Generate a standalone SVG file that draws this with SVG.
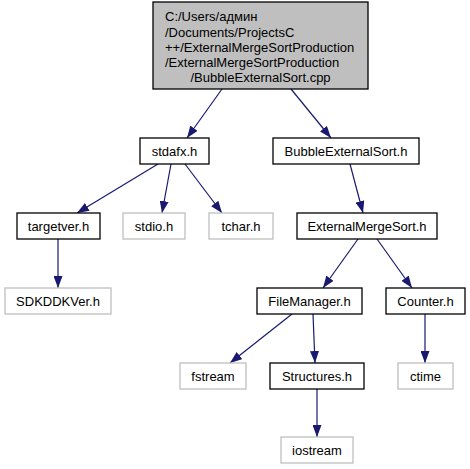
<svg xmlns="http://www.w3.org/2000/svg" width="470" height="469" viewBox="0 0 470 469">
<defs>
<marker id="ah" viewBox="0 0 12 9" refX="12" refY="4.5" markerWidth="12" markerHeight="9" markerUnits="userSpaceOnUse" orient="auto">
<path d="M0,0 L12,4.5 L0,9 Z" fill="#191970"/>
</marker>
<style>
text{font-family:"Liberation Sans",Arial,sans-serif;font-size:13px;fill:#000}
.c{text-anchor:middle}
.n rect{fill:#fff;stroke:#000;stroke-width:1.3}
.g rect{fill:#fff;stroke:#bfbfbf;stroke-width:1.3}
.r rect{fill:#bfbfbf;stroke:#000;stroke-width:1.3}
#edges path{fill:none;stroke:#191970;stroke-width:1.2;marker-end:url(#ah)}
</style>
</defs>
<rect width="470" height="469" fill="#fff"/>
<g id="edges">
<path d="M222,89 L187,138"/>
<path d="M291,89 L331,138"/>
<path d="M158,164 L77,213"/>
<path d="M171,164 L162,213"/>
<path d="M185,164 L222,213"/>
<path d="M350,164 L363,213"/>
<path d="M58,239 L58,288"/>
<path d="M358,239 L323,288"/>
<path d="M377,239 L412,288"/>
<path d="M292,314 L230,363"/>
<path d="M313,314 L315,363"/>
<path d="M425,314 L425,363"/>
<path d="M317,389 L317,437"/>
</g>
<g id="root" class="r"><rect x="153" y="2" width="215" height="87"/>
<text x="165" y="21">C:/Users/админ</text>
<text x="165" y="37">/Documents/ProjectsC</text>
<text x="165" y="52">++/ExternalMergeSortProduction</text>
<text x="165" y="67">/ExternalMergeSortProduction</text>
<text x="260.5" y="82" class="c">/BubbleExternalSort.cpp</text></g>
<g id="stdafx" class="n"><rect x="140" y="138" width="69" height="26"/><text x="174.5" y="156" class="c">stdafx.h</text></g>
<g id="bubble" class="n"><rect x="273" y="138" width="146" height="26"/><text x="346" y="156" class="c">BubbleExternalSort.h</text></g>
<g id="targetver" class="n"><rect x="17" y="213" width="83" height="26"/><text x="58.5" y="231" class="c">targetver.h</text></g>
<g id="stdio" class="g"><rect x="123" y="213" width="62" height="26"/><text x="154" y="231" class="c">stdio.h</text></g>
<g id="tchar" class="g"><rect x="209" y="213" width="64" height="26"/><text x="241" y="231" class="c">tchar.h</text></g>
<g id="ems" class="n"><rect x="297" y="213" width="140" height="26"/><text x="367" y="231" class="c">ExternalMergeSort.h</text></g>
<g id="sdk" class="g"><rect x="5" y="288" width="106" height="26"/><text x="58" y="306" class="c">SDKDDKVer.h</text></g>
<g id="filemanager" class="n"><rect x="257" y="288" width="105" height="26"/><text x="309.5" y="306" class="c">FileManager.h</text></g>
<g id="counter" class="n"><rect x="386" y="288" width="79" height="26"/><text x="425.5" y="306" class="c">Counter.h</text></g>
<g id="fstream" class="g"><rect x="180" y="363" width="66" height="26"/><text x="213" y="381" class="c">fstream</text></g>
<g id="structures" class="n"><rect x="270" y="363" width="94" height="26"/><text x="317" y="381" class="c">Structures.h</text></g>
<g id="ctime" class="g"><rect x="398" y="363" width="55" height="26"/><text x="425.5" y="381" class="c">ctime</text></g>
<g id="iostream" class="g"><rect x="281" y="437" width="72" height="26"/><text x="317" y="455" class="c">iostream</text></g>
</svg>
